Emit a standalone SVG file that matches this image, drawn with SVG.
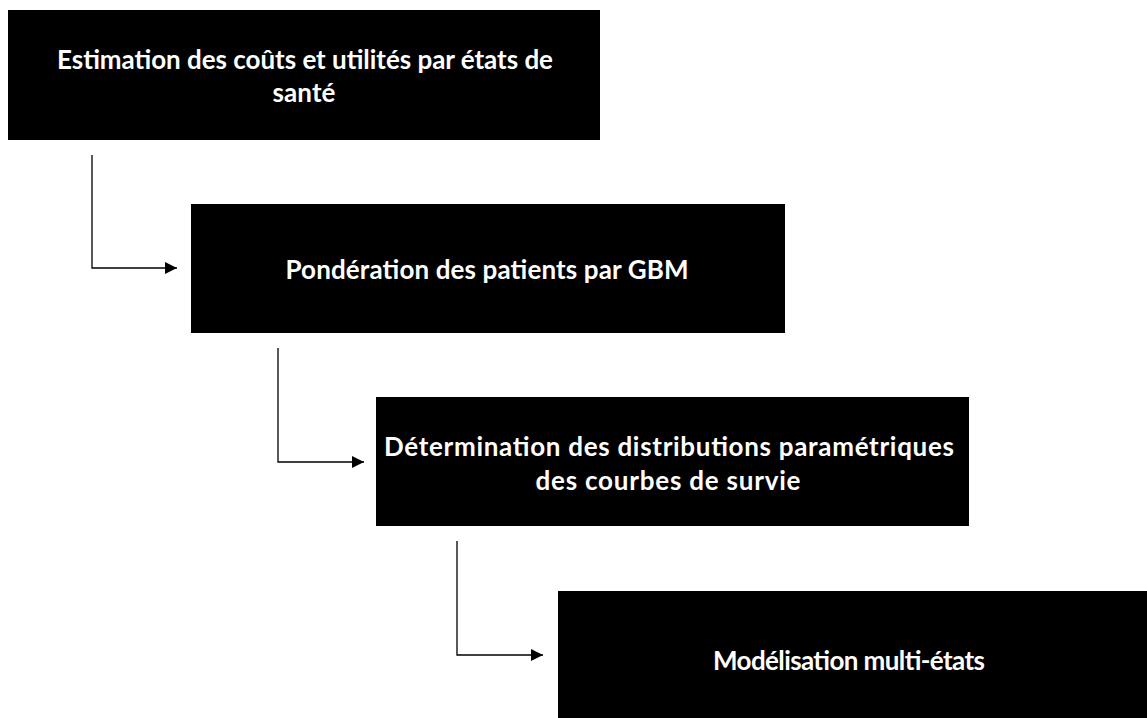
<svg xmlns="http://www.w3.org/2000/svg" width="1147" height="718" viewBox="0 0 1147 718">
<style>
.box{fill:#000}
.lbl{fill:#fff;font-family:Lato,"Open Sans","Liberation Sans",sans-serif;font-weight:bold;font-size:26px;text-anchor:middle}
.con{fill:none;stroke:#000;stroke-width:1.3}
</style>
<defs>
<marker id="arr" viewBox="0 0 12 12" refX="12" refY="6" markerWidth="12" markerHeight="12" markerUnits="userSpaceOnUse" orient="auto">
<path d="M0,0 L12,6 L0,12 Z" fill="#000"/>
</marker>
</defs>
<rect width="1147" height="718" fill="#fff"/>
<g id="connectors">
<polyline class="con" points="92,155 92,268 177,268" marker-end="url(#arr)"/>
<polyline class="con" points="278,348 278,462 364,462" marker-end="url(#arr)"/>
<polyline class="con" points="457,541 457,655 543,655" marker-end="url(#arr)"/>
</g>
<g id="node1">
<rect class="box" x="8" y="10" width="592" height="130"/>
<text class="lbl" x="305" y="69" textLength="496">Estimation des coûts et utilités par états de</text>
<text class="lbl" x="304" y="102" textLength="63">santé</text>
</g>
<g id="node2">
<rect class="box" x="191" y="204" width="594" height="129"/>
<text class="lbl" x="487" y="279" textLength="403">Pondération des patients par GBM</text>
</g>
<g id="node3">
<rect class="box" x="376" y="397" width="593" height="129"/>
<text class="lbl" x="669" y="456" textLength="570">Détermination des distributions paramétriques</text>
<text class="lbl" x="668" y="490" textLength="265">des courbes de survie</text>
</g>
<g id="node4">
<rect class="box" x="558" y="591" width="600" height="130"/>
<text class="lbl" x="849" y="670" textLength="272">Modélisation multi-états</text>
</g>
</svg>
